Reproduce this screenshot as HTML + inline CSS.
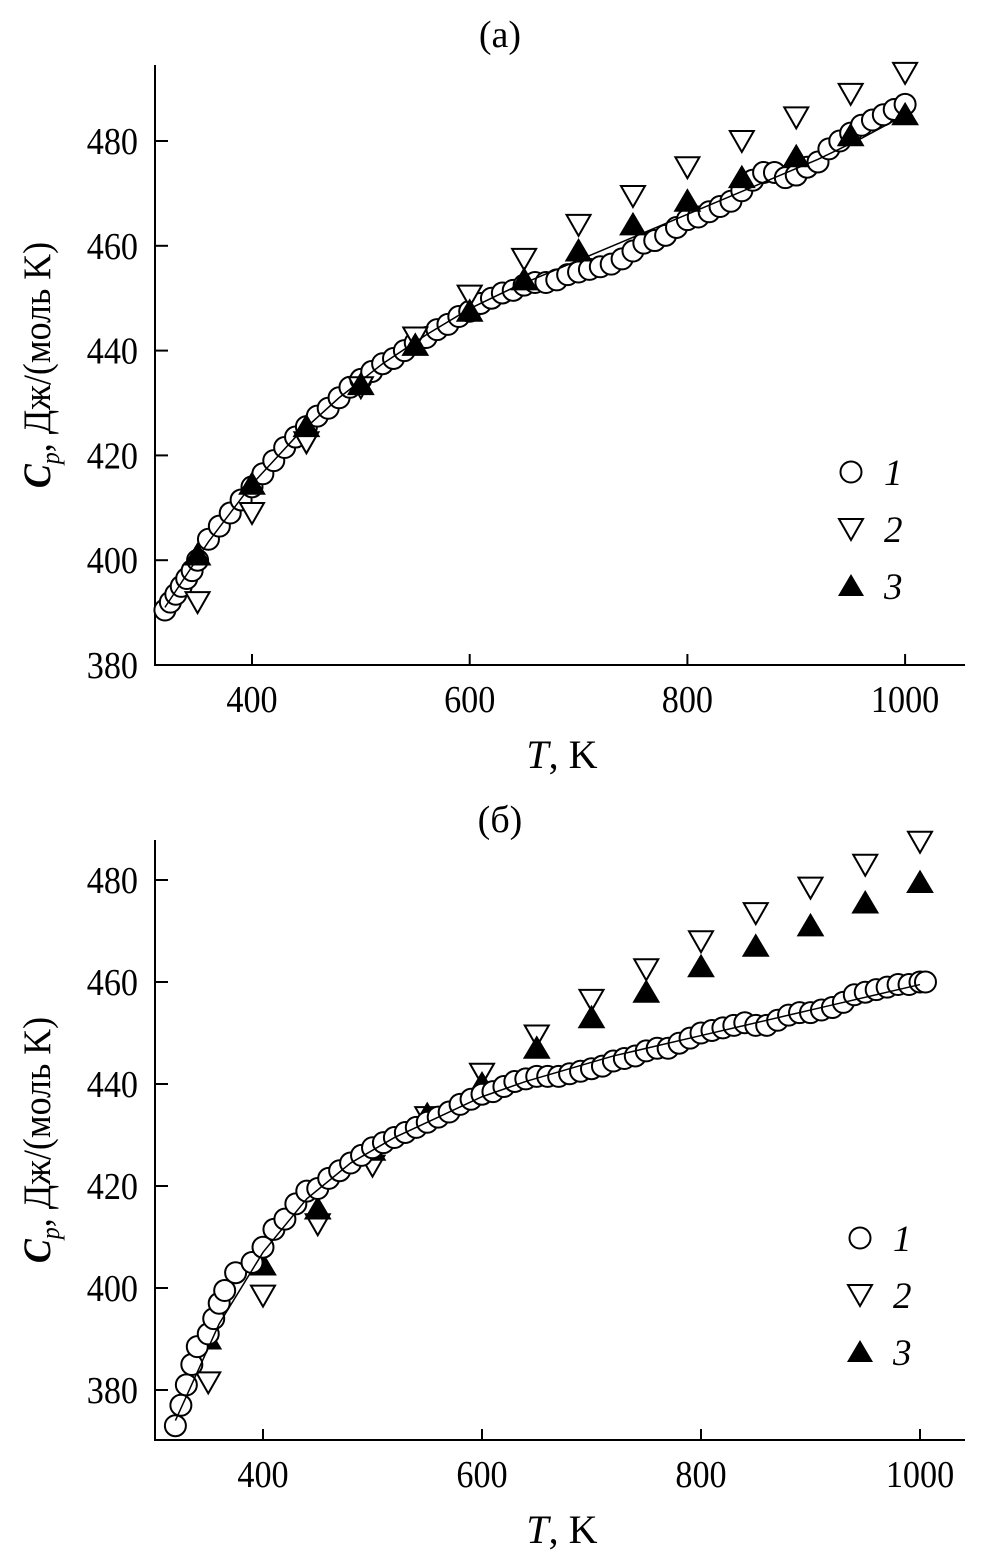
<!DOCTYPE html>
<html><head><meta charset="utf-8">
<style>
html,body{margin:0;padding:0;background:#fff;}
svg{display:block;font-family:"Liberation Serif","DejaVu Serif",serif;}
</style></head>
<body>
<svg id="chart" width="1004" height="1565" viewBox="0 0 1004 1565"></svg>
<script>
// ---- Panel (a) data ----
const aCircT = [320,325,330,335,340,345,350,360,370,380,390,400,410,420,430,440,450,460,470,480,490,500,510,520,530,540,550,560,570,580,590,600,610,620,630,640,650,660,670,680,690,700,710,720,730,740,750,760,770,780,790,800,810,820,830,840,850,860,870,880,890,900,910,920,930,940,950,960,970,980,990,1000];
const aCircV = [390.5,392,393.5,395,396.5,398,400,404,406.5,409,411.5,414,416.5,419,421.5,423.5,425.5,427.5,429,431,433,434.5,436,437.5,438.5,440,441.5,442.5,444,445,446.5,447.5,449,450,451,451.5,452.5,453,453,453.5,454.5,455,455.5,456,456.5,457.5,459,460.5,461,462,463.5,465,465.5,466.5,467.5,468.5,470.5,472.5,474,474,473,473.5,475,476,478.5,480,481.5,483,484,485,486,487];
const triT = [350,400,450,500,550,600,650,700,750,800,850,900,950,1000];
const aDownV = [392,409,422.5,433,442.5,450.5,457.5,464,469.5,475,480,484.5,489,493];
const aUpV = [401,414.5,425.5,433.5,441,447.5,453.5,459,464,468.5,473,477,481,485];
const fitT = [320,360,400,440,480,520,560,600,640,680,720,760,800,840,880,920,960,1000];
const aFitV = [391,403.5,414.5,423.5,431,437.5,443,448,452,455.5,459,462.5,466,469.5,473,476.5,480.5,485];
// ---- Panel (b) data ----
const bCircT = [320,325,330,335,340,350,355,360,365,375,390,400,410,420,430,440,450,460,470,480,490,500,510,520,530,540,550,560,570,580,590,600,610,620,630,640,650,660,670,680,690,700,710,720,730,740,750,760,770,780,790,800,810,820,830,840,850,860,870,880,890,900,910,920,930,940,950,960,970,980,990,1000,1005];
const bCircV = [373,377,381,385,388.5,391,394,397,399.5,403,405,408,411.5,413.5,416.5,419,419.5,421.5,423,424.5,426,427.5,428.5,429.5,430.5,431.5,432.5,433.5,434.5,436,437,438,438.5,439.5,440.5,441,441.5,441.5,441.5,442,442.5,443,443.5,444.5,445,445.5,446.5,447,447,448,449,450,450.5,451,451.5,452,451.5,451.5,452.5,453.5,454,454,454.5,455,456,457.5,458,458.5,459,459.5,459.5,460,460];
const bDownV = [381.5,398.5,412.5,424,433.5,442,449.5,456.5,462.5,468,473.5,478.5,483,487.5];
const bUpV = [390,404.5,415.5,427,434,440,447,453,458,463,467,471,475.5,479.5];
const bFitV = [374,393,407,417.5,424.5,429.5,433.5,437.5,440.5,443,445.5,447.5,449.5,451.5,453.5,455.5,457.5,459.5];
const xTicks = [400,600,800,1000];
const yTicks = [380,400,420,440,460,480];

const NS="http://www.w3.org/2000/svg";
const svg=document.getElementById('chart');
function mk(tag,attrs,parent){const e=document.createElementNS(NS,tag);for(const k in attrs)e.setAttribute(k,attrs[k]);(parent||svg).appendChild(e);return e;}

function panel(p){
  const g=mk('g',{});
  
  
  const X=t=>p.x400+(t-400)*p.sx;
  const Y=v=>p.y380-(v-380)*p.sy;
  const ax=mk('path',{d:`M155 ${p.top} V${p.bottom} H965`,fill:'none',stroke:'#000','stroke-width':2},g);
  
  
  xTicks.forEach(t=>{
    const l=mk('line',{x1:X(t),x2:X(t),y1:p.bottom,y2:p.bottom-11,stroke:'#000','stroke-width':2},g);
    
    
    const tx=mk('text',{x:X(t),y:p.bottom+47,'font-size':38,'text-anchor':'middle',transform:`translate(${X(t)} 0) scale(0.9 1) translate(${-X(t)} 0)`},g);
    tx.textContent=t;
    
    
  });
  yTicks.forEach(v=>{
    const l=mk('line',{x1:155,x2:168,y1:Y(v),y2:Y(v),stroke:'#000','stroke-width':2},g);
    
    
    const tx=mk('text',{x:138,y:Y(v)+13,'font-size':38,'text-anchor':'end',transform:`translate(138 0) scale(0.9 1) translate(-138 0)`},g);
    tx.textContent=v;
    
    
  });
  function circles(){
    p.cT.forEach((t,i)=>{
      const c=mk('circle',{cx:X(t),cy:Y(p.cV[i]),r:10.5,fill:'#fff',stroke:'#000','stroke-width':2},g);
      
      
    });
  }
  function tris(){
    triT.forEach((t,i)=>{
      const x=X(t),y=Y(p.dV[i]);
      const d=mk('path',{d:`M${x-12} ${y-10} H${x+12} L${x} ${y+11} Z`,fill:'#fff',stroke:'#000','stroke-width':2},g);
      
      
    });
    triT.forEach((t,i)=>{
      const x=X(t),y=Y(p.uV[i]);
      const u=mk('path',{d:`M${x-13} ${y+10} H${x+13} L${x} ${y-12} Z`,fill:'#000',stroke:'#000','stroke-width':1},g);
      
      
    });
  }
  if(p.circlesOnTop){tris();circles();}else{circles();tris();}
  const fl=mk('polyline',{points:fitT.map((t,i)=>X(t)+','+Y(p.fit[i])).join(' '),fill:'none',stroke:'#000','stroke-width':1.5},g);
  
  
  const tt=mk('text',{x:500,y:p.titleY,'font-size':38,'text-anchor':'middle'},g);
  tt.textContent=p.title;
  
  
  const xl=mk('text',{x:562,y:p.bottom+103,'font-size':40,'text-anchor':'middle'},g);
  xl.innerHTML='<tspan font-style="italic">T</tspan>, K';
  
  
  const yl=mk('text',{x:0,y:0,'font-size':39,'text-anchor':'middle',transform:`translate(50 ${p.ylabY}) rotate(-90) scale(0.92 1)`},g);
  yl.innerHTML='<tspan font-style="italic" font-weight="bold">C</tspan><tspan font-style="italic" font-size="26" dy="9">p</tspan><tspan dy="-9">, Дж/(моль K)</tspan>';
  
  
  const L=p.leg;
  const c=mk('circle',{cx:L.x,cy:L.y,r:10.5,fill:'#fff',stroke:'#000','stroke-width':2},g);
  
  
  const y2=L.y+L.dy;
  const d=mk('path',{d:`M${L.x-12} ${y2-10} H${L.x+12} L${L.x} ${y2+11} Z`,fill:'#fff',stroke:'#000','stroke-width':2},g);
  
  
  const y3=L.y+2*L.dy;
  const u=mk('path',{d:`M${L.x-13} ${y3+10} H${L.x+13} L${L.x} ${y3-12} Z`,fill:'#000'},g);
  
  
  ['1','2','3'].forEach((s,i)=>{
    const t=mk('text',{x:L.x+33,y:L.y+i*L.dy+13,'font-size':37,'font-style':'italic'},g);
    t.textContent=s;
    
    
  });
}

panel({name:'panel-a',title:'(a)',titleY:47,top:65,bottom:665,x400:252,sx:1.0885,y380:665,sy:5.24,
  cT:aCircT,cV:aCircV,dV:aDownV,uV:aUpV,fit:aFitV,ylabY:365,leg:{x:851,y:472,dy:57},circlesOnTop:false});
panel({name:'panel-b',title:'(б)',titleY:832,top:840,bottom:1440,x400:263,sx:1.095,y380:1390,sy:5.1,
  cT:bCircT,cV:bCircV,dV:bDownV,uV:bUpV,fit:bFitV,ylabY:1140,leg:{x:860,y:1238,dy:57},circlesOnTop:true});
</script>
</body></html>
